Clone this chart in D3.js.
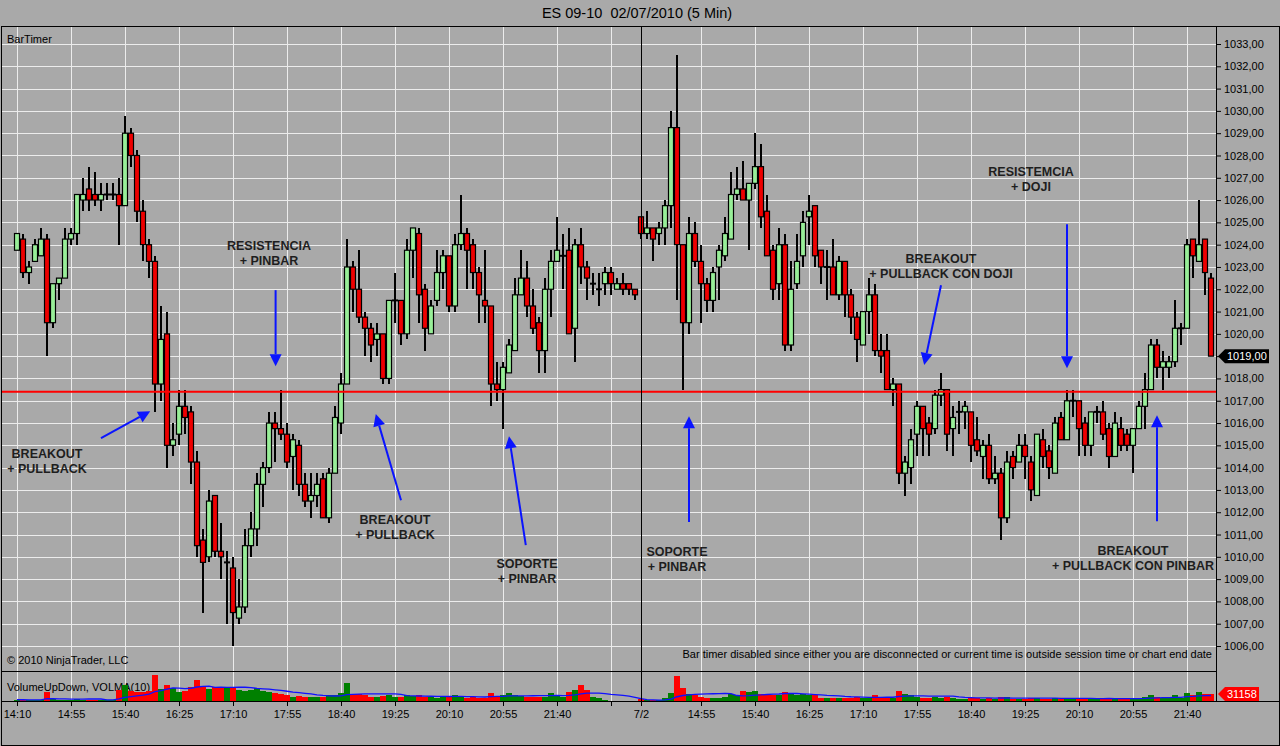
<!DOCTYPE html>
<html><head><meta charset="utf-8">
<script src="https://cdn.jsdelivr.net/npm/d3@7"></script>
<style>
html,body{margin:0;padding:0;background:#a9a9a9;overflow:hidden;}
svg{display:block;font-family:"Liberation Sans",Arial,sans-serif;}
</style></head><body>
<svg id="chart" width="1280" height="746"></svg>
<script>
// ---------- DATA (ES 09-10, 5 min bars, 2 sessions) ----------
const open = [
1023.75,1024.25,1022.75,1023.25,1023.5,1024.25,1020.5,1022.25,1022.5,1024.25,
1024.5,1026,1026.5,1026.25,1026,1026.25,1026.25,1026.25,1025.75,1029,
1028,1025.5,1024,1023.25,1017.75,1020,1015,1015.5,1016.75,1016.5,
1014.25,1010.75,1010,1012.75,1010.25,1009.75,1009.5,1007.25,1007.75,1010.5,
1011.25,1013.25,1014,1016,1015.75,1015.5,1014.5,1015,1013.25,1012.5,
1012.75,1013.5,1011.75,1013.75,1016,1017.75,1023,1022,1020.75,1020.25,
1019.75,1020,1018,1021.5,1021.5,1020,1023.75,1024.5,1022,1020,
1021.5,1022.75,1023.5,1021.25,1024,1024.5,1024,1022.75,1021.5,1021.25,
1017.75,1017.5,1018.25,1019.25,1021.75,1022.5,1021.25,1020.5,1019.25,1022,
1023.25,1023.5,1023.75,1020.25,1024,1023,1022.25,1022,1022.25,1022.75,
1022,1022.25,1022.25,1022,
1025.25,1024.5,1024.75,1024.5,1024.75,1025.75,1029.25,1024,1020.5,1024.5,
1023.25,1022.25,1021.5,1023,1023.5,1024.25,1026.25,1026.5,1026,1026.75,
1027.5,1025.5,1023.75,1022.25,1024,1019.5,1022.25,1023.5,1025.25,1025.75,
1023.75,1023,1023,1021.75,1023.25,1021.75,1020.75,1019.5,1021,1021.75,
1019.25,1019.25,1017.5,1017.75,1013.75,1014,1015.5,1016.75,1016,1015.75,
1017.25,1017.5,1015.75,1016.5,1016.5,1016.5,1015.25,1014.5,1015,1013.5,
1013.75,1011.75,1014.5,1014.25,1015,1014.25,1012.75,1015.25,1014.75,1013.75,
1016.25,1015.25,1017,1017,1016,1015,1016.5,1016.5,1015.75,1014.5,
1015.75,1015.5,1015,1015.75,1016.75,1017.5,1019.5,1018.5,1018.5,1018.75,
1020.25,1020.25,1024.25,1023.25,1024.25,1022.5];
const high = [
1024.5,1024.5,1023.25,1024.25,1024.75,1024.5,1022.25,1022.5,1024.75,1024.75,
1026.25,1027,1027.5,1027.25,1026.75,1026.75,1026.75,1027,1029.75,1029.25,
1028.25,1026,1024.25,1023.5,1021.25,1021,1016,1017.5,1017.5,1016.75,
1014.75,1011.25,1013,1012.75,1011.5,1010.25,1010,1009,1011.25,1012,
1013.75,1014.25,1016.5,1016.5,1017.5,1016,1015.5,1015.25,1013.75,1013.75,
1013.75,1013.75,1014,1016.75,1018.25,1024.25,1023.25,1023.75,1021,1020.5,
1020.5,1020,1021.5,1022.75,1021.5,1024.25,1024.75,1024.75,1022.25,1021.5,
1023.75,1023.75,1023.5,1024.5,1026.25,1024.75,1024.25,1023,1023.75,1021.25,
1018.75,1018.75,1019.75,1022.5,1023.75,1023.25,1022,1020.75,1022.5,1023.75,
1025.25,1024.5,1024.75,1024.25,1024.75,1023.25,1022.75,1022.75,1023,1023,
1022.5,1022.75,1022.25,1022,
1025.25,1025.5,1024.75,1025,1026,1030,1032.5,1024,1025.25,1025,
1024,1022.5,1023,1024,1025.25,1027.25,1027.5,1027.75,1026.75,1029,
1028.5,1026.25,1024,1024.75,1024.5,1023.25,1024.5,1025.5,1026.25,1025.75,
1023.75,1023.75,1024.25,1023.5,1023.25,1022,1021,1021,1022.5,1022.25,
1020,1020,1018,1017.75,1014.5,1015.75,1017,1016.75,1016.25,1017.5,
1018.25,1017.5,1016.75,1017,1017,1016.5,1016.25,1015.25,1015.5,1014.5,
1014,1014.75,1014.75,1015.5,1015.5,1014.5,1015.5,1015.75,1015,1016.25,
1016.5,1017.5,1017.5,1017,1016.25,1016.5,1016.75,1017,1016,1016.5,
1016.25,1015.75,1015.75,1017,1018.25,1019.75,1019.75,1019.25,1019,1021.5,
1020.5,1024.25,1024.25,1026,1024.25,1022.75];
const low = [
1023.75,1022.5,1022.25,1023.25,1023.5,1019,1020.25,1021.5,1022.5,1024,
1024,1025.5,1025.5,1025.75,1025.5,1026,1026,1024,1025.75,1027.5,
1025,1023.25,1022.5,1016.5,1017,1014,1014.5,1015,1015.5,1013.25,
1010,1007.5,1009.75,1010,1009,1007,1006,1007,1007.5,1010,
1010.5,1012.25,1013.75,1014.25,1015.25,1014,1013,1012.75,1012.25,1011.75,
1012.25,1011.75,1011.5,1013.75,1015.5,1017.75,1021,1020.5,1019,1018.75,
1019,1017.75,1017.75,1020.5,1019.5,1019.75,1022.5,1020.5,1019.25,1020,
1021.25,1022,1021,1021,1023.75,1022,1022,1020.5,1020.5,1016.75,
1017,1015.75,1018.25,1019.25,1021.75,1020.75,1020,1018.25,1018.25,1020.75,
1023.25,1022,1020,1018.75,1022.25,1021.5,1021.75,1021.25,1021.75,1021.75,
1022,1021.75,1021.75,1021.5,
1024.25,1024.25,1023.25,1024,1024,1024.75,1021.5,1017.5,1020,1023,
1020.5,1021,1021,1021.5,1023.25,1024.25,1026,1026,1023.75,1026.5,
1024.75,1023.5,1021.5,1021.5,1019.25,1019.25,1022,1023,1024,1023,
1022.25,1021.5,1021.75,1021.5,1020.75,1020,1018.75,1019.5,1020,1019,
1018.25,1017.5,1016.75,1013.25,1012.75,1013.25,1014.5,1014.5,1014.5,1015.5,
1016.75,1014.75,1014.5,1015.5,1015.75,1014.25,1014.5,1013.5,1013.25,1013.25,
1010.75,1011.5,1013.5,1014.25,1013.5,1012.5,1012.75,1014,1013.5,1013.75,
1015.25,1015.25,1016.25,1014.5,1014.5,1014.5,1016,1015.25,1014,1014.5,
1014.75,1014.75,1013.75,1015.75,1015.75,1017.5,1018,1017.5,1018,1018.5,
1019.5,1020.25,1022.5,1023.25,1021.75,1019];
const close = [
1024.5,1022.75,1023,1024,1024.25,1020.5,1022.25,1022.5,1024.25,1024.5,
1026.25,1026.25,1026,1026,1026.25,1026.25,1026.25,1025.75,1029,1028,
1025.5,1024,1023.25,1017.75,1019.75,1015,1015.25,1016.75,1016.25,1014.25,
1010.5,1009.75,1012.5,1010.25,1010,1009.75,1007.5,1007.75,1010.5,1011.25,
1013.25,1014,1016,1015.75,1015.5,1014.25,1015.25,1013.25,1012.5,1012.75,
1013.25,1011.75,1013.75,1016.25,1017.75,1023,1022,1020.75,1020.25,1019.5,
1020,1018,1021.5,1021.5,1020,1023.75,1024.75,1021.75,1020.25,1021.25,
1022.75,1023.5,1021.25,1024,1024.5,1023.75,1022.75,1021.75,1021.25,1017.75,
1017.5,1018.5,1019.5,1021.75,1022.5,1021.25,1020.25,1019.25,1022,1023.25,
1023.75,1023.5,1020,1024,1023,1022.5,1022.25,1022,1022.75,1022.25,
1022.25,1022,1022,1021.75,
1024.5,1024.75,1024.25,1024.75,1025.75,1029.25,1024,1020.5,1024.5,1023.25,
1022.25,1021.5,1022.75,1023.75,1024.5,1026.25,1026.5,1026,1026.75,1027.5,
1025.25,1023.5,1022,1024,1019.5,1022,1023.25,1025,1025.5,1023.5,
1023,1023,1021.75,1023.25,1021.75,1020.75,1019.75,1021,1021.75,1019.25,
1019,1017.5,1017.75,1013.75,1014.25,1015.25,1016.75,1015.75,1015.5,1017.25,
1017.5,1015.5,1016.25,1016.5,1016.75,1015,1014.75,1015,1013.5,1013.75,
1011.75,1014.25,1014,1015,1014.5,1013,1015.5,1014.5,1014,1016,
1015.25,1017,1017,1015.75,1015,1016.5,1016.5,1015.5,1014.5,1016,
1015,1015,1015.75,1016.75,1017.5,1019.5,1018.5,1018.75,1018.75,1020.25,
1020.25,1024,1023.5,1024,1022.75,1019];
const volume = [
6000,5000,4000,4000,5000,39000,8000,5000,6000,4000,
8000,5000,6000,4000,4000,3000,4000,50000,71000,44000,
40000,40000,45000,114000,55000,70000,59000,40000,45000,62000,
95000,65000,55000,62000,62000,60000,58000,50000,45000,48000,
58000,45000,40000,35000,32000,25000,20000,22000,18000,20000,
18000,18000,25000,25000,35000,81000,33000,33000,28000,20000,
18000,22000,25000,20000,18000,25000,22000,25000,20000,18000,
15000,20000,18000,25000,20000,15000,18000,15000,15000,37000,
20000,25000,37000,25000,22000,18000,20000,18000,20000,37000,
25000,20000,42000,50000,71000,48000,20000,15000,3000,2000,
2000,2000,1500,1500,
8000,5000,6000,5000,15000,35000,111000,58000,30000,25000,
20000,12000,12000,15000,18000,30000,25000,45000,40000,45000,
30000,30000,25000,25000,40000,30000,25000,30000,25000,25000,
15000,12000,15000,12000,15000,15000,20000,15000,15000,25000,
15000,20000,15000,45000,30000,25000,20000,15000,12000,18000,
15000,20000,15000,10000,10000,15000,12000,10000,15000,10000,
20000,18000,10000,10000,10000,12000,15000,10000,10000,15000,
10000,15000,10000,12000,10000,10000,8000,10000,12000,12000,
10000,8000,12000,15000,18000,25000,20000,15000,12000,25000,
15000,35000,25000,38000,30000,31158];

const tickIndex = [0,9,18,27,36,45,54,63,72,81,90,99,104,114,123,132,141,150,159,168,177,186,195];
const tickLabel = ["14:10","14:55","15:40","16:25","17:10","17:55","18:40","19:25","20:10","20:55","21:40","","7/2",
                   "14:55","15:40","16:25","17:10","17:55","18:40","19:25","20:10","20:55","21:40"];
const sessionBreak = 103.5;
const priceTicks = d3.range(1006, 1034);
const resistanceLevel = 1017.4;
const lastPrice = 1019;
const lastVolume = 31158;
const volmaPeriod = 10;

// annotations in data space: [bar index, price]
const notes = [
  {lines:["BREAKOUT","+ PULLBACK"], at:[5, 1014.45], tail:[14, 1015.32], tip:[22.2, 1016.53]},
  {lines:["RESISTENCIA","+ PINBAR"], at:[42, 1023.75], tail:[43.1, 1021.96], tip:[43.1, 1018.55]},
  {lines:["BREAKOUT","+ PULLBACK"], at:[63, 1011.45], tail:[64, 1012.54], tip:[59.8, 1016.4]},
  {lines:["SOPORTE","+ PINBAR"], at:[85, 1009.5], tail:[84.8, 1010.52], tip:[82, 1015.41]},
  {lines:["SOPORTE","+ PINBAR"], at:[110, 1010.05], tail:[112, 1011.56], tip:[112, 1016.31]},
  {lines:["BREAKOUT","+ PULLBACK CON DOJI"], at:[154, 1023.2], tail:[154, 1022.18], tip:[151.2, 1018.6]},
  {lines:["RESISTEMCIA","+ DOJI"], at:[169, 1027.1], tail:[175, 1024.92], tip:[175, 1018.46]},
  {lines:["BREAKOUT","+ PULLBACK CON PINBAR"], at:[186, 1010.1], tail:[190, 1011.6], tip:[190, 1016.35]}
];

// ---------- LAYOUT ----------
const W = 1280, H = 746;
const panelL = 2, panelR = 1216, panelT = 27, priceB = 671, volB = 701;
const svg = d3.select("#chart");
const bg = "#a9a9a9", grid = "#ececec";

const x = d3.scaleLinear().domain([0, open.length - 1]).range([17, 17 + 6 * (open.length - 1)]);
const y = d3.scaleLinear().domain([1006, 1033]).range([646, 44]);
const yv = d3.scaleLinear().domain([0, 125000]).range([volB, 673]);

svg.append("rect").attr("width", W).attr("height", H).attr("fill", bg);

// title
svg.append("text").attr("x", 637).attr("y", 18).attr("text-anchor", "middle")
  .attr("font-size", 14.5).attr("fill", "#000").style("white-space", "pre")
  .text("ES 09-10\u00a0 02/07/2010 (5 Min)");

// grid
const g = svg.append("g").attr("shape-rendering", "crispEdges");
g.selectAll("line.h").data(priceTicks).join("line")
  .attr("x1", panelL).attr("x2", panelR).attr("y1", d => Math.round(y(d)) + 0.5).attr("y2", d => Math.round(y(d)) + 0.5)
  .attr("stroke", grid).attr("stroke-width", 1);
g.selectAll("line.v").data(tickIndex).join("line")
  .attr("x1", d => x(d) + 0.5).attr("x2", d => x(d) + 0.5).attr("y1", panelT).attr("y2", volB)
  .attr("stroke", grid).attr("stroke-width", 1);

// texts in panel
svg.append("text").attr("x", 7).attr("y", 43).attr("font-size", 11).attr("fill", "#000").text("BarTimer");
svg.append("text").attr("x", 7).attr("y", 664).attr("font-size", 11).attr("fill", "#000").text("\u00a9 2010 NinjaTrader, LLC");
svg.append("text").attr("x", 1212).attr("y", 658).attr("text-anchor", "end").attr("font-size", 11).attr("fill", "#000")
  .text("Bar timer disabled since either you are disconnected or current time is outside session time or chart end date");
svg.append("text").attr("x", 7).attr("y", 691).attr("font-size", 11).attr("fill", "#000").text("VolumeUpDown, VOLMA(10)");

// volume bars
const idx = d3.range(open.length);
svg.append("g").attr("shape-rendering", "crispEdges").selectAll("rect").data(idx).join("rect")
  .attr("x", i => x(i) - 3).attr("width", 6)
  .attr("y", i => yv(volume[i])).attr("height", i => volB - yv(volume[i]))
  .attr("fill", i => close[i] >= open[i] ? "#008000" : "#ff0000");

// VOLMA(10)
const volma = idx.map(i => d3.mean(volume.slice(Math.max(0, i - volmaPeriod + 1), i + 1)));
svg.append("path").datum(idx)
  .attr("d", d3.line().x(i => x(i)).y(i => yv(volma[i])))
  .attr("fill", "none").attr("stroke", "#1010ff").attr("stroke-width", 1.3);

// candles
const cg = svg.append("g");
cg.selectAll("line.wick").data(idx).join("line")
  .attr("x1", i => x(i)).attr("x2", i => x(i))
  .attr("y1", i => y(high[i])).attr("y2", i => y(low[i]))
  .attr("stroke", "#000").attr("stroke-width", 2).attr("shape-rendering", "crispEdges");
cg.selectAll("rect.body").data(idx.filter(i => open[i] !== close[i])).join("rect")
  .attr("x", i => x(i) - 2.5).attr("width", 5)
  .attr("y", i => y(Math.max(open[i], close[i])))
  .attr("height", i => Math.max(1, Math.abs(y(open[i]) - y(close[i]))))
  .attr("fill", i => close[i] > open[i] ? "#98ee98" : "#ee0000")
  .attr("stroke", "#000").attr("stroke-width", 1.2);
cg.selectAll("line.doji").data(idx.filter(i => open[i] === close[i])).join("line")
  .attr("x1", i => x(i) - 3).attr("x2", i => x(i) + 3)
  .attr("y1", i => y(open[i])).attr("y2", i => y(open[i]))
  .attr("stroke", "#000").attr("stroke-width", 2);

// resistance line
svg.append("line").attr("x1", panelL).attr("x2", panelR)
  .attr("y1", y(resistanceLevel)).attr("y2", y(resistanceLevel))
  .attr("stroke", "#ff0000").attr("stroke-width", 2);

// session break
svg.append("line").attr("x1", x(sessionBreak + 0.5)).attr("x2", x(sessionBreak + 0.5))
  .attr("y1", panelT).attr("y2", volB).attr("stroke", "#000").attr("stroke-width", 1).attr("shape-rendering", "crispEdges");

// borders
const bd = svg.append("g").attr("fill", "none").attr("stroke", "#000").attr("shape-rendering", "crispEdges");
bd.append("rect").attr("x", panelL - 0.5).attr("y", panelT - 0.5).attr("width", W - panelL).attr("height", H - panelT);
bd.append("line").attr("x1", panelR + 0.5).attr("x2", panelR + 0.5).attr("y1", panelT).attr("y2", volB);
bd.append("line").attr("x1", panelL).attr("x2", panelR).attr("y1", priceB + 0.5).attr("y2", priceB + 0.5);
bd.append("line").attr("x1", panelL).attr("x2", W).attr("y1", volB + 0.5).attr("y2", volB + 0.5);

// price axis (the last-price marker replaces the tick label at that level)
const ya = svg.append("g").attr("transform", `translate(${panelR},0)`)
  .call(d3.axisRight(y).tickValues(priceTicks).tickSize(5).tickPadding(3)
    .tickFormat(d => d === lastPrice ? "" : d3.format(".2f")(d).replace(".", ",")));
ya.select(".domain").remove();
ya.selectAll("text").attr("font-size", 11).attr("font-family", "Liberation Sans, Arial, sans-serif").attr("fill", "#000");

// time axis
const xa = svg.append("g").attr("transform", `translate(0,${volB})`)
  .call(d3.axisBottom(x).tickValues(tickIndex).tickSize(5).tickPadding(4)
    .tickFormat((d, i) => tickLabel[i]));
xa.select(".domain").remove();
xa.selectAll("text").attr("font-size", 11).attr("font-family", "Liberation Sans, Arial, sans-serif").attr("fill", "#000");

// last value markers
function marker(yc, w, fill, label) {
  const x0 = panelR + 2, h = 7;
  svg.append("path").attr("d", `M${x0},${yc} L${x0 + 7},${yc - h} L${x0 + w},${yc - h} L${x0 + w},${yc + h} L${x0 + 7},${yc + h} Z`)
    .attr("fill", fill);
  svg.append("text").attr("x", x0 + 9).attr("y", yc + 4).attr("font-size", 11).attr("fill", "#fff").text(label);
}
marker(y(lastPrice), 51, "#000", d3.format(".2f")(lastPrice).replace(".", ","));
marker(yv(lastVolume), 41, "#ff0000", String(lastVolume));

// annotations
const ag = svg.append("g");
notes.forEach(n => {
  const t = ag.append("text").attr("x", x(n.at[0])).attr("y", y(n.at[1])).attr("text-anchor", "middle")
    .attr("font-size", 12.5).attr("font-weight", "bold").attr("fill", "#1e1e1e");
  n.lines.forEach((l, j) => t.append("tspan").attr("x", x(n.at[0])).attr("dy", j ? 15 : 0).text(l));
  const x1 = x(n.tail[0]), y1 = y(n.tail[1]), x2 = x(n.tip[0]), y2 = y(n.tip[1]);
  const a = Math.atan2(y2 - y1, x2 - x1), L = 12, Wd = 6;
  const bx = x2 - L * Math.cos(a), by = y2 - L * Math.sin(a);
  ag.append("line").attr("x1", x1).attr("y1", y1).attr("x2", bx).attr("y2", by)
    .attr("stroke", "#0a14ff").attr("stroke-width", 2);
  ag.append("path").attr("d", `M${x2},${y2} L${bx + Wd * Math.sin(a)},${by - Wd * Math.cos(a)} L${bx - Wd * Math.sin(a)},${by + Wd * Math.cos(a)} Z`)
    .attr("fill", "#0a14ff");
});
</script>
</body></html>
